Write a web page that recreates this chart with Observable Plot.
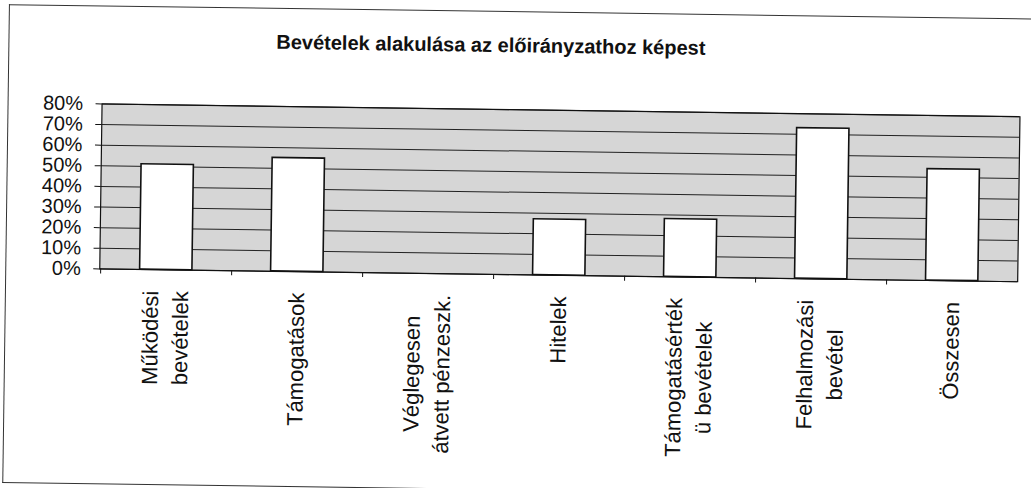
<!DOCTYPE html>
<html>
<head>
<meta charset="utf-8">
<script src="https://cdn.jsdelivr.net/npm/d3@7"></script>
<script src="https://cdn.jsdelivr.net/npm/@observablehq/plot@0.6"></script>
<style>
  html, body { margin: 0; padding: 0; background: #fff; overflow: hidden; }
  #wrap { position: relative; width: 1031px; height: 488px; transform: rotate(0.8deg); transform-origin: 0 0; }
  #frame { position: absolute; left: 9px; top: 4px; width: 1100px; height: 477px;
           border-left: 1.5px solid #333; border-top: 1.5px solid #333; border-bottom: 1.5px solid #333; }
  #title { position: absolute; left: 0; width: 983px; top: 28px; text-align: center;
           font: bold 20px "Liberation Sans", Arial, sans-serif; line-height: 20px; color: #111; }
  #chart { position: absolute; left: 0; top: 0; }
</style>
</head>
<body>
<div id="wrap">
  <div id="frame"></div>
  <div id="title">Bevételek alakulása az előirányzathoz képest</div>
  <div id="chart"></div>
</div>
<script>
const categories = [
  "Működési\nbevételek",
  "Támogatások",
  "Véglegesen\nátvett pénzeszk.",
  "Hitelek",
  "Támogatásérték\nü bevételek",
  "Felhalmozási\nbevétel",
  "Összesen"
];
const values = [0.51, 0.55, 0, 0.27, 0.28, 0.73, 0.54];
const yTicks = [0, 0.1, 0.2, 0.3, 0.4, 0.5, 0.6, 0.7, 0.8];
const yTickLabels = ["0%", "10%", "20%", "30%", "40%", "50%", "60%", "70%", "80%"];

const data = categories.map((c, i) => ({category: c, value: values[i]}));

const W = 1031, H = 488, mL = 103, mR = 10, mT = 102, mB = 221;
const bw = (W - mL - mR) / categories.length;
const labelFont = 22, labelLineGap = 30;

const chart = Plot.plot({
  width: W, height: H,
  marginLeft: mL, marginRight: mR, marginTop: mT, marginBottom: mB,
  style: {background: "transparent", fontFamily: "'Liberation Sans', Arial, sans-serif", color: "#111", overflow: "visible"},
  x: {domain: categories, padding: 0, axis: null},
  y: {domain: [0, 0.8], axis: null},
  marks: [
    Plot.frame({fill: "#d6d6d6"}),
    Plot.gridY(yTicks, {stroke: "#222", strokeOpacity: 1, strokeWidth: 1}),
    Plot.barY(data, {x: "category", y: "value", fill: "white", stroke: "#111", strokeWidth: 1.6,
                     insetLeft: bw * 0.3, insetRight: bw * 0.3}),
    Plot.frame({stroke: "#111", strokeWidth: 1.2}),
    Plot.ruleX(categories, {x: d => d, dx: -bw / 2, y1: 0, y2: 0, insetBottom: -5, stroke: "#111"}),
    Plot.axisY(yTicks, {label: null, tickFormat: d => yTickLabels[yTicks.indexOf(d)], tickSize: 6, tickPadding: 13,
                        fontSize: 20, stroke: "#111", fill: "#111"}),
    Plot.text(data, {x: "category", frameAnchor: "bottom", text: "category", rotate: -90, textAnchor: "end",
                     dy: 21, fontSize: labelFont, fill: "#111"})
  ]
});
document.getElementById("chart").append(chart);

// Excel style rotated labels: lines centred within a block whose end touches the axis
const NS = "http://www.w3.org/2000/svg";
chart.querySelectorAll("text").forEach(t => {
  const tr = t.getAttribute("transform") || "";
  if (!tr.includes("rotate")) return;
  const spans = t.querySelectorAll("tspan");
  const lines = spans.length ? Array.from(spans, s => s.textContent) : [t.textContent];
  t.textContent = "";
  t.removeAttribute("dy");
  t.removeAttribute("y");
  t.setAttribute("text-anchor", "middle");
  const n = lines.length;
  const made = lines.map((line, k) => {
    const s = document.createElementNS(NS, "tspan");
    s.textContent = line;
    s.setAttribute("x", 0);
    s.setAttribute("y", (k - (n - 1) / 2) * labelLineGap);
    s.setAttribute("dy", "0.33em");
    t.appendChild(s);
    return s;
  });
  const maxL = Math.max(...made.map(s => s.getComputedTextLength()));
  made.forEach(s => s.setAttribute("x", -maxL / 2));
});
</script>
</body>
</html>
